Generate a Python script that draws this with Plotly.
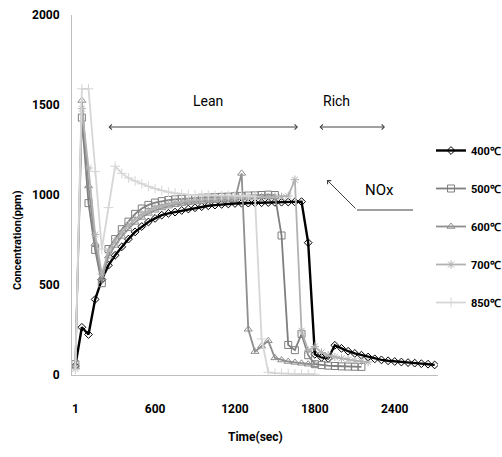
import plotly.graph_objects as go

# ---- data ----
time_sec = [1, 50, 100, 150, 200, 250, 300, 350, 400, 450, 500, 550, 600, 650, 700,
            750, 800, 850, 900, 950, 1000, 1050, 1100, 1150, 1200, 1250, 1300, 1350,
            1400, 1450, 1500, 1550, 1600, 1650, 1700, 1750, 1800, 1850, 1900, 1950,
            2000, 2050, 2100, 2150, 2200, 2250, 2300, 2350, 2400, 2450, 2500, 2550,
            2600, 2650, 2700]

nox_400 = [50, 265, 225, 420, 530, 610, 665, 712, 755, 795, 825, 850, 870, 888, 898,
           905, 914, 922, 929, 935, 940, 944, 948, 950, 953, 954, 955, 956, 957, 958,
           959, 960, 961, 962, 963, 735, 115, 98, 92, 165, 148, 132, 120, 110, 100,
           90, 84, 79, 75, 72, 69, 66, 63, 60, 56]

nox_500 = [60, 1430, 955, 695, 510, 700, 755, 810, 852, 895, 925, 945, 958, 966, 972,
           976, 979, 981, 983, 985, 986, 988, 990, 991, 993, 995, 997, 998, 1000, 1002,
           1000, 775, 167, 138, 228, 110, 60, 55, 52, 50, 48, 47, 46, 45]

nox_600 = [45, 1525, 1050, 730, 540, 660, 720, 770, 812, 848, 875, 898, 915, 928, 938,
           946, 952, 957, 961, 964, 967, 969, 971, 972, 975, 1120, 254, 130, 160, 190,
           95, 83, 75, 70, 65, 60, 57]

nox_700 = [35, 1480, 1150, 780, 560, 690, 745, 792, 832, 866, 892, 912, 928, 940, 950,
           957, 963, 968, 972, 975, 978, 980, 982, 984, 985, 987, 986, 988, 990, 989,
           991, 990, 995, 1085, 245, 135, 158, 125, 110, 100, 92, 86, 80, 76, 72]

nox_850 = [30, 1590, 1590, 1130, 700, 930, 1160, 1120, 1095, 1078, 1062, 1048, 1035,
           1025, 1016, 1010, 1005, 1002, 1000, 998, 999, 997, 996, 998, 995, 997, 994,
           993, 200, 15, 10, 8, 7, 6, 5, 5, 5]

series_names = ["400℃", "500℃", "600℃", "700℃", "850℃"]
x_ticks = [1, 600, 1200, 1800, 2400]
y_ticks = [0, 500, 1000, 1500, 2000]

series = [nox_400, nox_500, nox_600, nox_700, nox_850]
colors = ["#000000", "#7f7f7f", "#8f8f8f", "#b2b2b2", "#d6d6d6"]
symbols = ["diamond-open", "square-open", "triangle-up-open", "asterisk-open", "cross-thin-open"]
widths = [2.4, 1.8, 1.8, 1.8, 1.8]
msizes = [6, 7, 7, 7, 7]

FONT = "Roboto"

fig = go.Figure()
for name, vals, c, s, w, ms in zip(series_names, series, colors, symbols, widths, msizes):
    fig.add_trace(go.Scatter(
        x=time_sec[:len(vals)], y=vals, name=name, mode="lines+markers",
        legendgroup=name,
        line=dict(color=c, width=w),
        marker=dict(symbol=s, size=ms, color=c, line=dict(color=c, width=1)),
    ))

L, R, T, B = 72, 64, 15, 82
W, H = 502, 457
pw, ph = W - L - R, H - T - B


def px_x(p):
    return (p - L) / pw


def px_y(p):
    return (H - B - p) / ph


DX, DY = "x domain", "y domain"
annotations = [
    dict(text="Lean", x=px_x(208), y=px_y(101), showarrow=False,
         font=dict(size=14, color="#000000", family=FONT)),
    dict(text="Rich", x=px_x(336), y=px_y(101), showarrow=False,
         font=dict(size=14, color="#000000", family=FONT)),
    dict(text="NOx", x=px_x(379), y=px_y(190), showarrow=False,
         font=dict(size=15, color="#000000", family=FONT)),
    dict(text="", x=px_x(298), y=px_y(127), ax=px_x(107), ay=px_y(127),
         axref=DX, ayref=DY, showarrow=True, arrowhead=4, startarrowhead=4,
         arrowside="end+start", arrowsize=1.0, startarrowsize=1.0, arrowwidth=1,
         arrowcolor="#404040"),
    dict(text="", x=px_x(385), y=px_y(127), ax=px_x(318), ay=px_y(127),
         axref=DX, ayref=DY, showarrow=True, arrowhead=4, startarrowhead=4,
         arrowside="end+start", arrowsize=1.0, startarrowsize=1.0, arrowwidth=1,
         arrowcolor="#404040"),
    dict(text="", x=px_x(327), y=px_y(180), ax=px_x(357), ay=px_y(210),
         axref=DX, ayref=DY, showarrow=True, arrowhead=4,
         arrowsize=1.0, arrowwidth=1, arrowcolor="#404040"),
    dict(text="<b>Concentration(ppm)</b>", x=px_x(17), y=px_y(240), textangle=-90,
         showarrow=False, font=dict(size=11, color="#000000", family=FONT)),
    dict(text="<b>Time(sec)</b>", x=px_x(255), y=px_y(437), showarrow=False,
         font=dict(size=12, color="#000000", family=FONT)),
]
for a in annotations:
    a.setdefault("xref", DX)
    a.setdefault("yref", DY)
    a.setdefault("xanchor", "center")
    a.setdefault("yanchor", "middle")

shapes = [dict(type="line", xref=DX, yref=DY,
               x0=px_x(357), y0=px_y(210), x1=px_x(413), y1=px_y(210),
               line=dict(color="#404040", width=1))]

fig.update_layout(
    width=W, height=H,
    margin=dict(l=L, r=R, t=T, b=B, autoexpand=False),
    paper_bgcolor="white", plot_bgcolor="white",
    font=dict(family=FONT, color="#000000"),
    showlegend=True,
    legend=dict(x=px_x(431), y=px_y(136), xanchor="left", yanchor="top",
                bgcolor="rgba(0,0,0,0)", tracegroupgap=19, itemwidth=30,
                font=dict(size=11, family=FONT, weight="bold")),
    annotations=annotations,
    shapes=shapes,
    xaxis=dict(range=[-24, 2725], tickmode="array", tickvals=x_ticks,
               ticktext=[str(v) for v in x_ticks],
               showgrid=False, zeroline=False, showline=True, linecolor="#bfbfbf",
               linewidth=1, ticks="", ticklabelstandoff=23,
               tickfont=dict(size=12, family=FONT, weight="bold")),
    yaxis=dict(range=[0, 2000], tickmode="array", tickvals=y_ticks,
               showgrid=False, zeroline=False, showline=True, linecolor="#bfbfbf",
               linewidth=1, ticks="", ticklabelstandoff=9,
               tickfont=dict(size=12, family=FONT, weight="bold")),
)

fig.write_html("out.html", config={"displayModeBar": False},
               post_script="document.body.style.margin='0';document.body.style.overflow='hidden';")
